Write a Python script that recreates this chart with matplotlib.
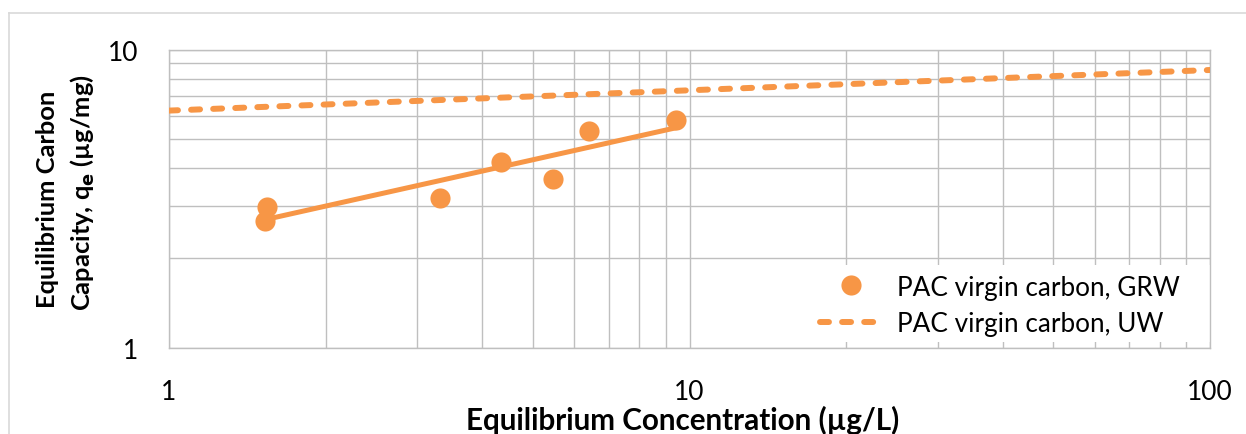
import numpy as np
import matplotlib
matplotlib.use("Agg")
import matplotlib.pyplot as plt
from matplotlib.lines import Line2D
from matplotlib.patches import Rectangle
from matplotlib.ticker import NullFormatter

# Equilibrium data, PAC virgin carbon in groundwater (GRW)
grw_ce = [1.54, 1.53, 3.31, 4.35, 5.46, 6.41, 9.43]   # µg/L
grw_qe = [2.98, 2.67, 3.18, 4.21, 3.69, 5.34, 5.83]   # µg/mg

# Freundlich isotherm, PAC virgin carbon in ultrapure water (UW)
uw_ce = [1.0, 100.0]
uw_qe = [6.25, 8.55]

x_ticks = [1, 10, 100]
y_ticks = [1, 10]

ORANGE = "#F79646"
GRID = "#BFBFBF"
W, H = 1246, 435

plt.rcParams["font.family"] = ["Lato", "DejaVu Sans"]

fig = plt.figure(figsize=(W / 100, H / 100), dpi=100)
renderer = fig.canvas.get_renderer()


def px(x, y):
    """Pixel position (from top-left) to figure fraction."""
    return x / W, 1 - y / H


def fitted_size(text, target_px, weight="normal", ref=20.0):
    """Font size at which `text` is `target_px` pixels wide."""
    probe = fig.text(0, 0, text, fontsize=ref, fontweight=weight)
    width = probe.get_window_extent(renderer=renderer).width
    probe.remove()
    return ref * target_px / width


tick_fs = fitted_size("100", 46)
legend_fs = fitted_size("PAC virgin carbon, GRW", 283)
xlabel_fs = fitted_size("Equilibrium Concentration (µg/L)", 434, "bold")
ylabel_fs = fitted_size("Equilibrium Carbon", 218, "bold")

L, R, T, B = 169, 1210, 50.7, 349
ax = fig.add_axes([L / W, 1 - B / H, (R - L) / W, (B - T) / H])


def ax_frac(x, y):
    return (x - L) / (R - L), (B - y) / (B - T)


ax.set_xscale("log")
ax.set_yscale("log")
ax.set_xlim(1, 100)
ax.set_ylim(1, 10)

# grid (major + minor) in light gray
ax.grid(True, which="both", color=GRID, lw=1.0, zorder=0)
for s in ax.spines.values():
    s.set_color(GRID)
    s.set_linewidth(1.0)

ax.set_xticks(x_ticks)
ax.set_xticklabels([str(t) for t in x_ticks])
ax.set_yticks(y_ticks)
ax.set_yticklabels([str(t) for t in y_ticks])
ax.xaxis.set_minor_formatter(NullFormatter())
ax.yaxis.set_minor_formatter(NullFormatter())
ax.tick_params(which="both", length=0, labelsize=tick_fs, colors="black")
ax.tick_params(axis="x", pad=22)
ax.tick_params(axis="y", pad=22)

# power-law trendline through the GRW points
b, a = np.polyfit(np.log10(grw_ce), np.log10(grw_qe), 1)
xf = np.array([min(grw_ce), max(grw_ce)])
ax.plot(xf, 10 ** (a + b * np.log10(xf)), color=ORANGE, lw=3.6,
        solid_capstyle="round", zorder=3)

pts, = ax.plot(grw_ce, grw_qe, "o", color=ORANGE, ms=14.5, mec="none",
               zorder=4, label="PAC virgin carbon, GRW")
uw, = ax.plot(uw_ce, uw_qe, color=ORANGE, lw=4.3, dashes=(1.5, 2.2),
              dash_capstyle="round", zorder=3, label="PAC virgin carbon, UW")

# legend on a white panel in the lower-right corner
x0, y0 = ax_frac(812, 343)
x1, y1 = ax_frac(R, 266)
ax.add_patch(Rectangle((x0, y0), x1 - x0, y1 - y0, transform=ax.transAxes,
                       facecolor="white", edgecolor="none", zorder=2))
fs_px = legend_fs * 100 / 72
leg = ax.legend(handles=[pts, uw], loc="center left",
                bbox_to_anchor=ax_frac(820, 306.5), fontsize=legend_fs,
                frameon=False, handlelength=62 / fs_px,
                handletextpad=15 / fs_px, labelspacing=0.45,
                borderpad=0.0, borderaxespad=0.0)
leg.set_zorder(5)

ax.set_xlabel("Equilibrium Concentration (µg/L)", fontsize=xlabel_fs,
              fontweight="bold", va="baseline")
ax.xaxis.set_label_coords(*ax_frac(683, 430))

# two-line y-axis title
fig.text(*px(55, 199), "Equilibrium Carbon", fontsize=ylabel_fs,
         fontweight="bold", rotation=90, rotation_mode="anchor",
         ha="center", va="baseline")
fig.text(*px(91, 193), "Capacity, q$_\\mathbf{e}$ (µg/mg)",
         fontsize=ylabel_fs, fontweight="bold", rotation=90,
         rotation_mode="anchor", ha="center", va="baseline")

# chart-area border
fig.add_artist(Line2D([8.5 / W, 8.5 / W], [0, 1 - 13.5 / H], color="#D9D9D9",
                      lw=1.2, transform=fig.transFigure))
fig.add_artist(Line2D([8.5 / W, 1], [1 - 13.5 / H, 1 - 13.5 / H],
                      color="#D9D9D9", lw=1.2, transform=fig.transFigure))

fig.savefig("out.png", dpi=100)
